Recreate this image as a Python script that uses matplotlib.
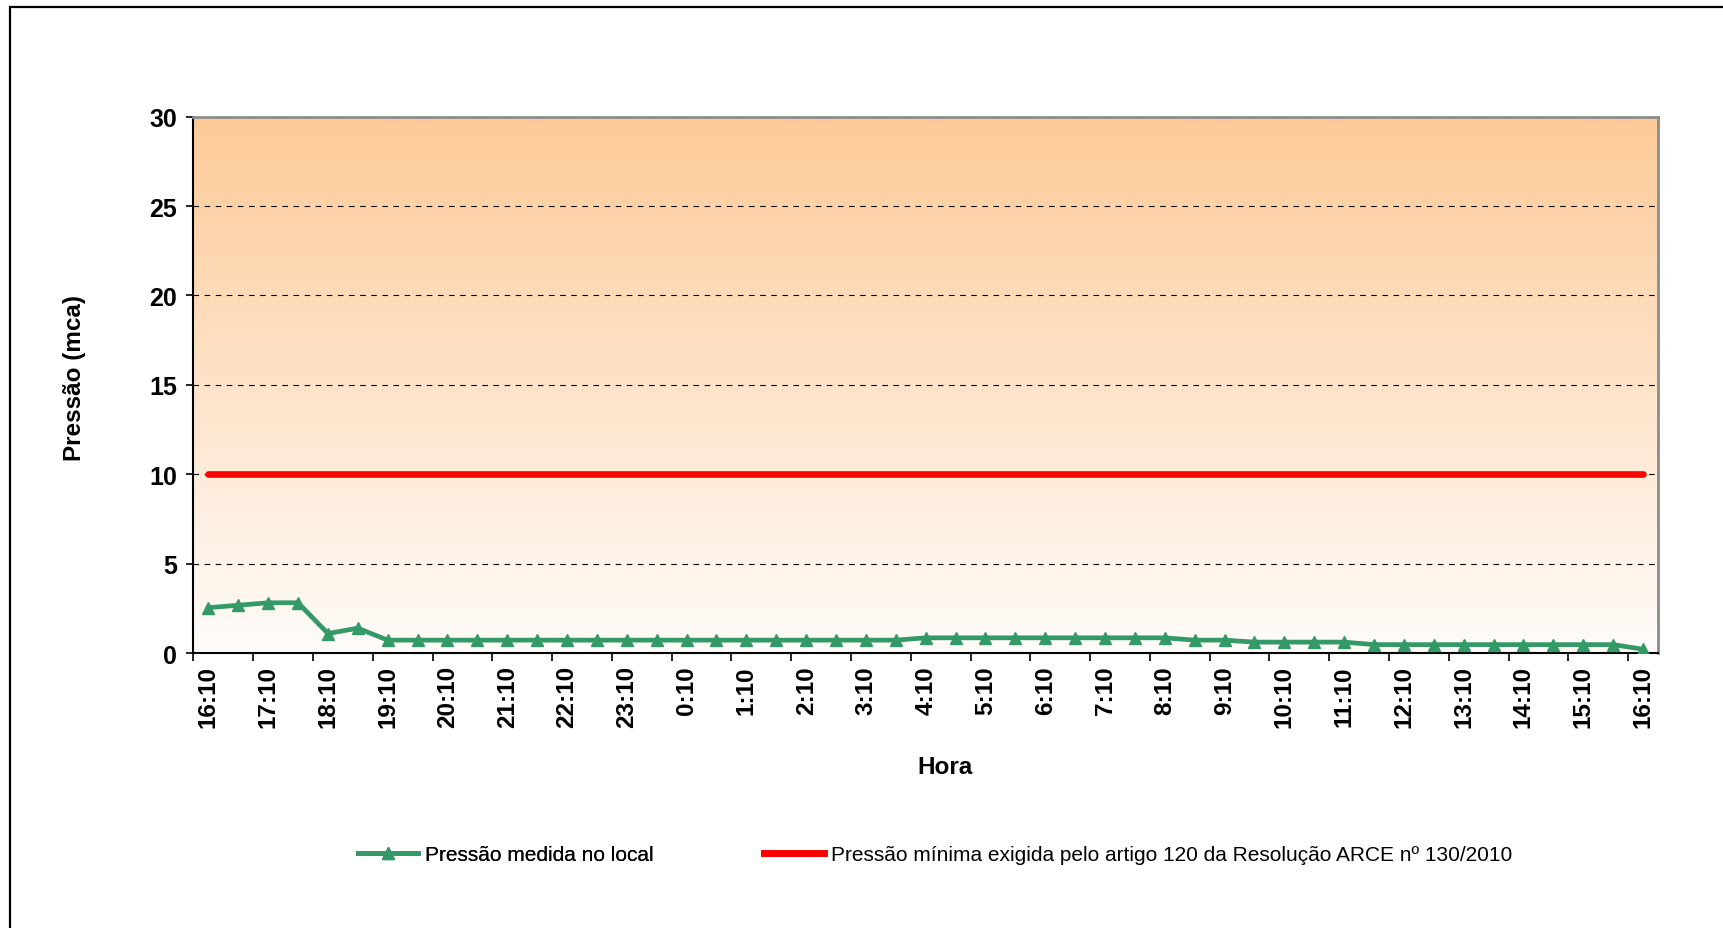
import numpy as np
import matplotlib
matplotlib.use('Agg')
import matplotlib.pyplot as plt
from matplotlib.lines import Line2D
from matplotlib.patches import Rectangle
from matplotlib.colors import to_rgb

plt.rcParams['font.family'] = ['Liberation Sans', 'DejaVu Sans']

# leituras a cada 30 min, de 16:10 a 16:10 do dia seguinte
pressao_medida = [2.55, 2.68, 2.82, 2.82, 1.10, 1.40,
                  0.73, 0.73, 0.73, 0.73, 0.73, 0.73, 0.73, 0.73, 0.73,
                  0.73, 0.73, 0.73, 0.73, 0.73, 0.73, 0.73, 0.73, 0.73,
                  0.86, 0.86, 0.86, 0.86, 0.86, 0.86, 0.86, 0.86, 0.86,
                  0.73, 0.73,
                  0.62, 0.62, 0.62, 0.62,
                  0.48, 0.48, 0.48, 0.48, 0.48, 0.48, 0.48, 0.48, 0.48,
                  0.22]
pressao_minima = 10

hora_labels = ['16:10', '17:10', '18:10', '19:10', '20:10', '21:10', '22:10',
               '23:10', '0:10', '1:10', '2:10', '3:10', '4:10', '5:10', '6:10',
               '7:10', '8:10', '9:10', '10:10', '11:10', '12:10', '13:10',
               '14:10', '15:10', '16:10']

verde = '#339966'
vermelho = '#ff0000'

x = np.arange(len(pressao_medida))

fig = plt.figure(figsize=(17.24, 9.29), dpi=100)
ax = fig.add_axes([0.1122, 0.2958, 0.8495, 0.5776])

# fundo em degradê laranja -> branco
top = np.array(to_rgb('#fdca97'))
bottom = np.array(to_rgb('#fffcfa'))
t = np.linspace(0, 1, 256)[:, None, None]
grad = top * (1 - t) + bottom * t
ax.imshow(grad, extent=(-0.5, len(x) - 0.5, 0, 30), aspect='auto', zorder=0,
          interpolation='bilinear')

ax.plot(x, [pressao_minima] * len(x), color=vermelho, lw=4.8, solid_capstyle='round',
        zorder=3)
ax.plot(x, pressao_medida, color=verde, lw=3.4, marker='^', markersize=9,
        solid_joinstyle='round', zorder=4)

ax.set_xlim(-0.5, len(x) - 0.5)
ax.set_ylim(0, 30)
ax.set_yticks(range(0, 31, 5))
ax.yaxis.grid(True, color='black', linestyle=(0, (5, 5)), lw=0.8)
ax.set_axisbelow(True)

ax.set_xticks(x[::2])
ax.set_xticklabels(hora_labels, rotation=90, fontsize=17.5, fontweight='bold')
ax.set_xticks(np.arange(-0.5, len(x) - 1, 2), minor=True)
ax.tick_params(axis='x', which='major', length=0, pad=8.5)
ax.tick_params(axis='x', which='minor', length=6, width=1.2, direction='out')
ax.tick_params(axis='y', length=5, width=1.2, pad=7, labelsize=18)
for lab in ax.get_yticklabels():
    lab.set_fontweight('bold')

for s in ['left', 'bottom']:
    ax.spines[s].set_color('black')
    ax.spines[s].set_linewidth(1.5)
for s in ['top', 'right']:
    ax.spines[s].set_color('#8c8c8c')
    ax.spines[s].set_linewidth(2)

fig.text(945 / 1724, 1 - 768 / 929, 'Hora', fontsize=17.5, fontweight='bold',
         ha='center', va='center')
fig.text(75 / 1724, 1 - 378 / 929, 'Pressão (mca)', fontsize=17.5,
         fontweight='bold', rotation=90, ha='center', va='center')

h1 = Line2D([], [], color=verde, lw=3.4, marker='^', markersize=9)
h2 = Line2D([], [], color=vermelho, lw=5)
leg1 = fig.legend([h1], ['Pressão medida no local'], loc='center left',
                  bbox_to_anchor=(358 / 1724, 1 - 856 / 929), frameon=False,
                  fontsize=15, handlelength=2.9, handletextpad=0.3,
                  borderpad=0, borderaxespad=0)
leg2 = fig.legend([h2], ['Pressão mínima exigida pelo artigo 120 da Resolução ARCE nº 130/2010'],
                  loc='center left', bbox_to_anchor=(764 / 1724, 1 - 856 / 929),
                  frameon=False, fontsize=15, handlelength=2.9,
                  handletextpad=0.3, borderpad=0, borderaxespad=0)
fig.add_artist(leg1)

# moldura externa do gráfico
fig.patches.append(Rectangle((10 / 1724, -0.2), 1.5, 1 - 8 / 929 + 0.2,
                             transform=fig.transFigure, fill=False,
                             edgecolor='black', lw=1.6))

fig.savefig('out.png', dpi=100)
